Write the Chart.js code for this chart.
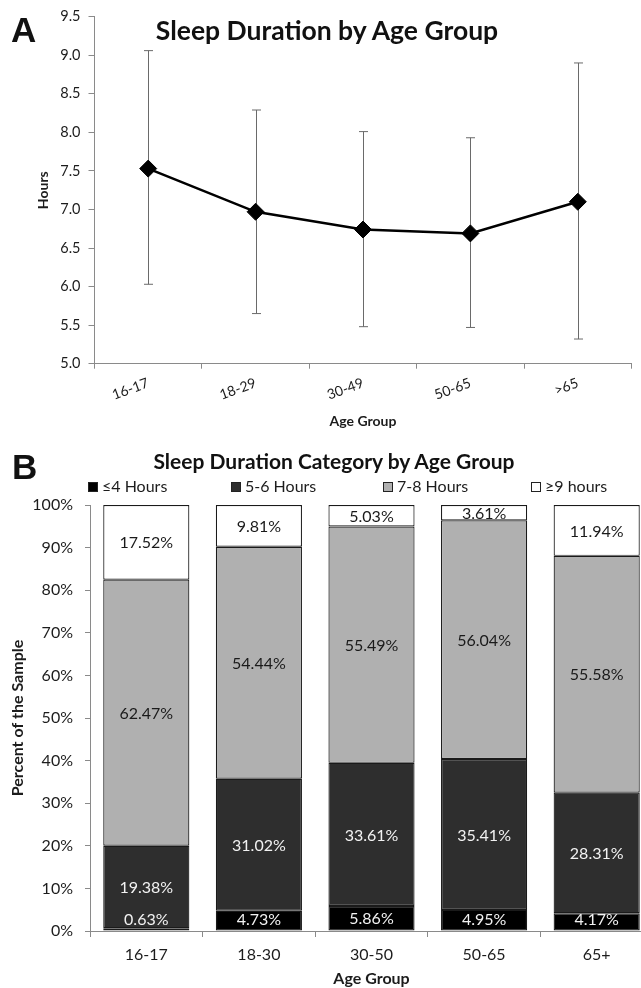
<!DOCTYPE html>
<html>
<head>
<meta charset="utf-8">
<script src="https://cdn.jsdelivr.net/npm/chart.js@4"></script>
<style>
  html, body { margin: 0; padding: 0; background: #fff; overflow: hidden; }
  body { position: relative; width: 641px; height: 988px; font-family: Lato, sans-serif; color: #222; }
  .panel { position: absolute; left: 0; }
  .letter { position: absolute; font-family: "Liberation Sans", Arial, sans-serif; font-weight: bold; font-size: 35px; line-height: 1; color: #111; z-index: 2; }
  .heading { position: absolute; left: 0; text-align: center; font-weight: bold; color: #111; white-space: nowrap; z-index: 2; line-height: 1; }
</style>
</head>
<body>
<div class="panel" style="top:0; width:641px; height:440px"><canvas id="sleep_hours"></canvas></div>
<div class="panel" style="top:440px; width:653px; height:548px"><canvas id="sleep_category"></canvas></div>
<div class="letter" style="left:11px; top:12px">A</div>
<div class="letter" style="left:12px; top:449px">B</div>
<div class="heading" style="top:17px; width:654px; font-size:26.5px">Sleep Duration by Age Group</div>
<div class="heading" style="top:450px; width:668px; font-size:21px">Sleep Duration Category by Age Group</div>
<script>
// panel A: mean hours with error bars
const ageGroupsA = ["16-17", "18-29", "30-49", "50-65", ">65"]
const meanHours = [7.53, 6.97, 6.74, 6.69, 7.10]
const hoursLow = [6.03, 5.65, 5.48, 5.47, 5.32]
const hoursHigh = [9.06, 8.29, 8.01, 7.93, 8.90]

// panel B: share of each sleep category (stacked, bottom to top)
const ageGroupsB = ["16-17", "18-30", "30-50", "50-65", "65+"]
const categoryNames = ["≤4 Hours", "5-6 Hours", "7-8 Hours", "≥9 hours"]
const under4 = [0.63, 4.73, 5.86, 4.95, 4.17]
const fiveToSix = [19.38, 31.02, 33.61, 35.41, 28.31]
const sevenToEight = [62.47, 54.44, 55.49, 56.04, 55.58]
const nineUp = [17.52, 9.81, 5.03, 3.61, 11.94]

const axisGray = "#8a8a8a"
const textDark = "#1c1c1c"

const errorBars = {
    id: "errorBars",
    beforeDatasetsDraw(chart) {
        const { ctx, scales: { x, y } } = chart
        ctx.save()
        ctx.strokeStyle = "#6a6a6a"
        ctx.lineWidth = 1
        meanHours.forEach((m, i) => {
            const px = Math.round(x.getPixelForValue(i)) + 0.5
            const top = y.getPixelForValue(hoursHigh[i])
            const bot = y.getPixelForValue(hoursLow[i])
            ctx.beginPath()
            ctx.moveTo(px, top); ctx.lineTo(px, bot)
            ctx.moveTo(px - 4.5, top); ctx.lineTo(px + 4.5, top)
            ctx.moveTo(px - 4.5, bot); ctx.lineTo(px + 4.5, bot)
            ctx.stroke()
        })
        ctx.restore()
    }
}

new Chart(document.getElementById("sleep_hours"), {
    type: "line",
    data: {
        labels: ageGroupsA,
        datasets: [{
            label: "Hours",
            data: meanHours,
            borderColor: "#000",
            borderWidth: 2.5,
            tension: 0,
            pointStyle: "rectRot",
            pointRadius: 8.5,
            pointBackgroundColor: "#000",
            pointBorderColor: "#000",
            pointBorderWidth: 1
        }]
    },
    options: {
        responsive: true,
        maintainAspectRatio: false,
        animation: false,
        layout: { padding: { top: 16.7, right: 0, left: 0, bottom: 0 } },
        plugins: { legend: { display: false }, tooltip: { enabled: false } },
        scales: {
            x: {
                offset: true,
                grid: { offset: true, drawOnChartArea: false, color: axisGray, tickLength: 5 },
                border: { color: axisGray },
                ticks: { color: textDark, font: { family: "Lato", size: 14 }, minRotation: 20, maxRotation: 20, padding: 6 },
                title: { display: true, text: "Age Group", color: textDark, font: { family: "Lato", size: 14, weight: "bold" }, padding: { top: 0, bottom: 10 } },
                afterFit: s => { s.height = 76.3 }
            },
            y: {
                min: 5,
                max: 9.5,
                grid: { drawOnChartArea: false, color: axisGray, tickLength: 6 },
                border: { color: axisGray },
                ticks: { stepSize: 0.5, color: textDark, font: { family: "Lato", size: 14.5 }, padding: 8, callback: v => v.toFixed(1) },
                title: { display: true, text: "Hours", color: textDark, font: { family: "Lato", size: 14, weight: "bold" }, padding: { top: 35, bottom: 0 } },
                afterFit: s => { s.width = 94.5 }
            }
        }
    },
    plugins: [errorBars]
})

const legendSpots = [88, 231, 383, 531]
const boxLegend = {
    id: "boxLegend",
    afterDraw(chart) {
        const ctx = chart.ctx
        ctx.save()
        ctx.font = "16px Lato"
        ctx.textBaseline = "middle"
        chart.data.datasets.forEach((ds, i) => {
            const bx = legendSpots[i]
            const by = 42
            ctx.fillStyle = ds.backgroundColor
            ctx.fillRect(bx, by, 10, 10)
            ctx.strokeStyle = "#222"
            ctx.lineWidth = 1
            ctx.strokeRect(bx + 0.5, by + 0.5, 9, 9)
            ctx.fillStyle = textDark
            ctx.fillText(ds.label, bx + 14, by + 5)
        })
        ctx.restore()
    }
}

const barLabels = {
    id: "barLabels",
    afterDatasetsDraw(chart) {
        const { ctx, chartArea } = chart
        ctx.save()
        ctx.font = "16px Lato"
        ctx.textAlign = "center"
        ctx.textBaseline = "middle"
        chart.data.datasets.forEach((ds, i) => {
            const meta = chart.getDatasetMeta(i)
            ctx.fillStyle = i < 2 ? "#f2f2f2" : "#1a1a1a"
            meta.data.forEach((bar, j) => {
                let cy = (bar.y + bar.base) / 2
                cy = Math.min(cy, chartArea.bottom - 12)
                ctx.fillText(ds.data[j].toFixed(2) + "%", bar.x, cy + 1)
            })
        })
        ctx.restore()
    }
}

const fills = ["#000000", "#2e2e2e", "#b0b0b0", "#ffffff"]
const series = [under4, fiveToSix, sevenToEight, nineUp]

new Chart(document.getElementById("sleep_category"), {
    type: "bar",
    data: {
        labels: ageGroupsB,
        datasets: series.map((vals, i) => ({
            label: categoryNames[i],
            data: vals,
            backgroundColor: fills[i],
            borderColor: "#1a1a1a",
            borderWidth: 1.2,
            borderSkipped: false,
            barPercentage: 0.765,
            categoryPercentage: 1
        }))
    },
    options: {
        responsive: true,
        maintainAspectRatio: false,
        animation: false,
        layout: { padding: { top: 65, right: 0, left: 0, bottom: 0 } },
        plugins: { legend: { display: false }, tooltip: { enabled: false } },
        scales: {
            x: {
                stacked: true,
                grid: { drawOnChartArea: false, color: axisGray, tickLength: 6 },
                border: { color: axisGray },
                ticks: { color: textDark, font: { family: "Lato", size: 16 }, maxRotation: 0, padding: 8 },
                title: { display: true, text: "Age Group", color: textDark, font: { family: "Lato", size: 16, weight: "bold" }, padding: { top: 0, bottom: 0 } },
                afterFit: s => { s.height = 57 }
            },
            y: {
                stacked: true,
                min: 0,
                max: 100,
                grid: { drawOnChartArea: false, color: axisGray, tickLength: 5 },
                border: { color: axisGray },
                ticks: { stepSize: 10, color: textDark, font: { family: "Lato", size: 16 }, padding: 12, callback: v => v + "%" },
                title: { display: true, text: "Percent of the Sample", color: textDark, font: { family: "Lato", size: 16, weight: "bold" }, padding: { top: 8, bottom: 0 } },
                afterFit: s => { s.width = 90 }
            }
        }
    },
    plugins: [barLabels, boxLegend]
})
</script>
</body>
</html>
